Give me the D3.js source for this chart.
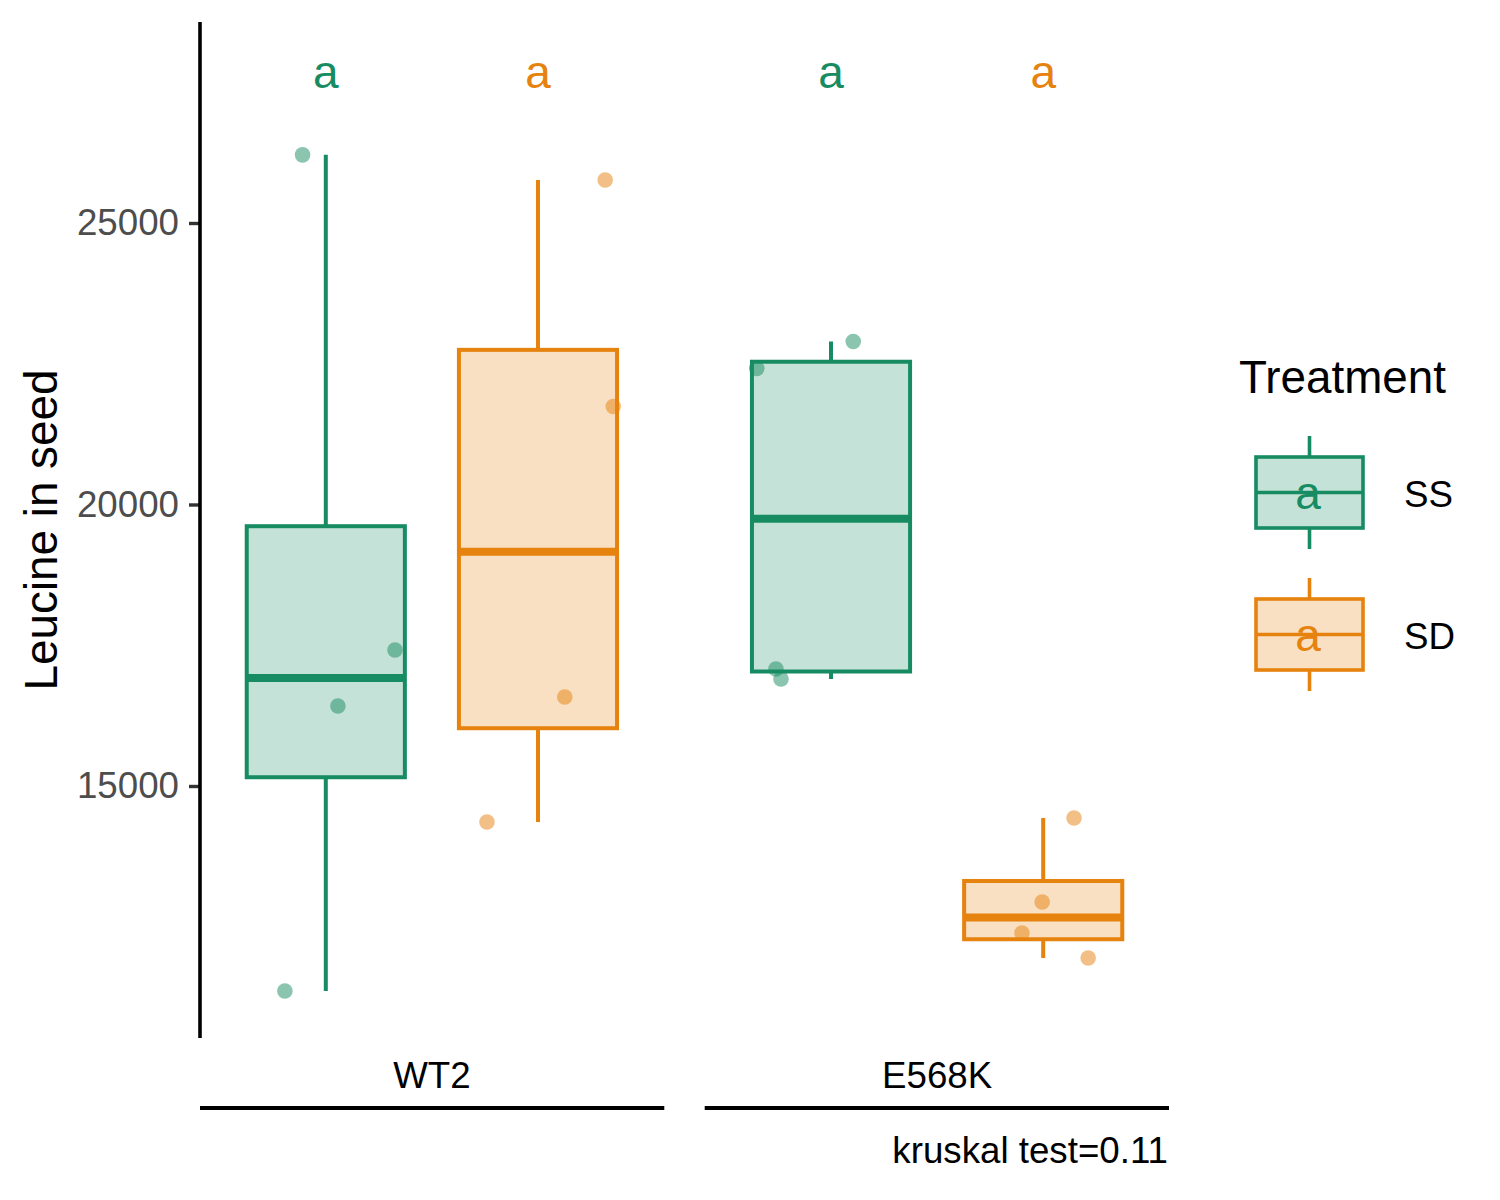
<!DOCTYPE html>
<html>
<head>
<meta charset="utf-8">
<script src="https://cdn.jsdelivr.net/npm/d3@7"></script>
<style>
  html, body { margin: 0; padding: 0; background: #fff; }
  svg { display: block; font-family: "Liberation Sans", Arial, sans-serif; }
</style>
</head>
<body>
<svg id="chart" width="1500" height="1200"></svg>
<script>
// ---- data ----
const groups = ["WT2", "E568K"];
const treatments = ["SS", "SD"];
const colors = ["#178C62", "#E6820E"];
const yTicks = [15000, 20000, 25000];
const letters = ["a", "a", "a", "a"];           // WT2-SS, WT2-SD, E568K-SS, E568K-SD
const letterValue = 27680;
const kruskalLabel = "kruskal test=0.11";
const yTitle = "Leucine in seed";
const legendTitle = "Treatment";

const wt2SS   = [26210, 11359, 16421, 17416];
const wt2SD   = [25764, 21741, 16581, 14361];
const e568kSS = [22895, 22416, 17078, 16900];
const e568kSD = [14432, 12940, 12389, 11945];
// horizontal jitter, in category-step units
const jitWt2SS   = [-0.046, -0.081, 0.024, 0.137];
const jitWt2SD   = [0.133, 0.149, 0.053, -0.101];
const jitE568kSS = [0.044, -0.147, -0.109, -0.099];
const jitE568kSD = [0.061, -0.002, -0.042, 0.089];

const series = [
  {group: "WT2",   trt: "SS", values: wt2SS,   jitter: jitWt2SS,   letter: letters[0]},
  {group: "WT2",   trt: "SD", values: wt2SD,   jitter: jitWt2SD,   letter: letters[1]},
  {group: "E568K", trt: "SS", values: e568kSS, jitter: jitE568kSS, letter: letters[2]},
  {group: "E568K", trt: "SD", values: e568kSD, jitter: jitE568kSD, letter: letters[3]}
];

// ---- layout ----
const svg = d3.select("#chart");
const panel = {left: 200, right: 1169, top: 22, bottom: 1038};

const y = d3.scaleLinear().domain([10524, 28570]).range([panel.bottom, panel.top]);
const x = d3.scalePoint().domain(groups).range([panel.left, panel.right]).padding(0.459);
const step = x.step();
const dodge = d3.scaleBand().domain(treatments).range([-0.42 * step, 0.42 * step]);
const color = d3.scaleOrdinal().domain(treatments).range(colors);
const boxW = 0.313 * step;

function cx(d) { return x(d.group) + dodge(d.trt) + dodge.bandwidth() / 2; }

function stats(vals) {
  const s = vals.slice().sort(d3.ascending);
  const q1 = d3.quantile(s, 0.25), med = d3.quantile(s, 0.5), q3 = d3.quantile(s, 0.75);
  const iqr = q3 - q1;
  const lo = d3.min(s.filter(v => v >= q1 - 1.5 * iqr));
  const hi = d3.max(s.filter(v => v <= q3 + 1.5 * iqr));
  return {q1, med, q3, lo, hi};
}

// ---- y axis ----
const yAxis = d3.axisLeft(y).tickValues(yTicks).tickSize(11).tickPadding(10).tickFormat(d3.format("d"));
const gy = svg.append("g").attr("transform", `translate(${panel.left},0)`).call(yAxis);
gy.select(".domain").remove();
gy.selectAll(".tick line").attr("stroke", "#333333").attr("stroke-width", 3.4);
gy.selectAll(".tick text").attr("fill", "#4D4D4D").style("font-size", "36.7px")
  .style("font-family", "'Liberation Sans', Arial, sans-serif");
svg.append("line").attr("x1", panel.left).attr("x2", panel.left)
  .attr("y1", y.range()[1]).attr("y2", y.range()[0])
  .attr("stroke", "#000").attr("stroke-width", 3.6);

svg.append("text").attr("transform", `translate(57,${(panel.top + panel.bottom) / 2}) rotate(-90)`)
  .attr("text-anchor", "middle").style("font-size", "45.8px").attr("fill", "#000").text(yTitle);

// ---- boxes ----
const gb = svg.append("g");
series.forEach(d => {
  const s = stats(d.values);
  const c = cx(d), col = color(d.trt);
  gb.append("line").attr("x1", c).attr("x2", c).attr("y1", y(s.hi)).attr("y2", y(s.q3))
    .attr("stroke", col).attr("stroke-width", 4);
  gb.append("line").attr("x1", c).attr("x2", c).attr("y1", y(s.q1)).attr("y2", y(s.lo))
    .attr("stroke", col).attr("stroke-width", 4);
  gb.append("rect").attr("x", c - boxW / 2).attr("width", boxW)
    .attr("y", y(s.q3)).attr("height", y(s.q1) - y(s.q3))
    .attr("fill", col).attr("fill-opacity", 0.25)
    .attr("stroke", col).attr("stroke-width", 4);
  gb.append("line").attr("x1", c - boxW / 2).attr("x2", c + boxW / 2)
    .attr("y1", y(s.med)).attr("y2", y(s.med))
    .attr("stroke", col).attr("stroke-width", 8);
  // points
  d.values.forEach((v, i) => {
    gb.append("circle").attr("cx", c + d.jitter[i] * step).attr("cy", y(v)).attr("r", 7.8)
      .attr("fill", col).attr("fill-opacity", 0.5);
  });
  // letters
  gb.append("text").attr("x", c).attr("y", y(letterValue)).attr("dy", "0.35em")
    .attr("text-anchor", "middle").style("font-size", "46px").attr("fill", col).text(d.letter);
});

// ---- group labels & bracket lines ----
const half = 0.46 * step;
groups.forEach(g => {
  svg.append("text").attr("x", x(g)).attr("y", 1088).attr("text-anchor", "middle")
    .style("font-size", "36.7px").attr("fill", "#000").text(g);
});
svg.append("line").attr("x1", panel.left).attr("x2", x(groups[0]) + half)
  .attr("y1", 1108).attr("y2", 1108).attr("stroke", "#000").attr("stroke-width", 4);
svg.append("line").attr("x1", x(groups[1]) - half).attr("x2", panel.right)
  .attr("y1", 1108).attr("y2", 1108).attr("stroke", "#000").attr("stroke-width", 4);

svg.append("text").attr("x", 1168).attr("y", 1163).attr("text-anchor", "end")
  .style("font-size", "36.7px").attr("fill", "#000").text(kruskalLabel);

// ---- legend ----
const lg = svg.append("g");
lg.append("text").attr("x", 1239).attr("y", 393).style("font-size", "45.8px").attr("fill", "#000").text(legendTitle);
treatments.forEach((t, i) => {
  const top = 457 + i * 142;
  const col = color(t);
  const mx = 1309.5;
  lg.append("line").attr("x1", mx).attr("x2", mx).attr("y1", top - 21).attr("y2", top).attr("stroke", col).attr("stroke-width", 3.6);
  lg.append("line").attr("x1", mx).attr("x2", mx).attr("y1", top + 71).attr("y2", top + 92).attr("stroke", col).attr("stroke-width", 3.6);
  lg.append("rect").attr("x", 1256).attr("y", top).attr("width", 107).attr("height", 71)
    .attr("fill", col).attr("fill-opacity", 0.25).attr("stroke", col).attr("stroke-width", 3.6);
  lg.append("line").attr("x1", 1256).attr("x2", 1363).attr("y1", top + 35.5).attr("y2", top + 35.5)
    .attr("stroke", col).attr("stroke-width", 3.6);
  lg.append("text").attr("x", 1308).attr("y", top + 52).attr("text-anchor", "middle")
    .style("font-size", "46px").attr("fill", col).text("a");
  lg.append("text").attr("x", 1404).attr("y", top + 50).style("font-size", "36.7px").attr("fill", "#000").text(t);
});
</script>
</body>
</html>
